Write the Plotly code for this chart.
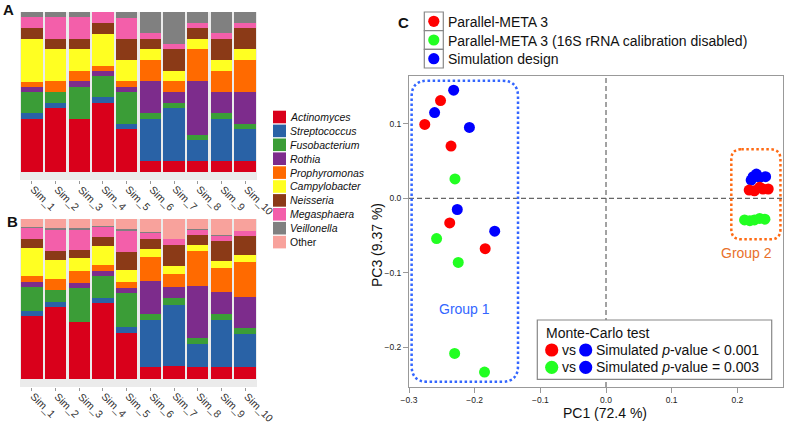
import plotly.graph_objects as go

W, H = 787, 427

# ---------------- data ----------------
sims = ["Sim_1", "Sim_2", "Sim_3", "Sim_4", "Sim_5", "Sim_6", "Sim_7", "Sim_8", "Sim_9", "Sim_10"]
genera = ["Actinomyces", "Streptococcus", "Fusobacterium", "Rothia", "Prophyromonas",
          "Campylobacter", "Neisseria", "Megasphaera", "Veillonella", "Other"]
genus_colors = ["#D9001B", "#2962A6", "#3B9D37", "#7D2C8C", "#FF6A00",
                "#FFFF22", "#8B3A17", "#F35FAA", "#808080", "#F8A29C"]

# Panel A: simulation design (% abundance)
A_actinomyces = [33.3, 40.0, 33.3, 43.3, 26.7, 6.7, 6.7, 6.7, 6.7, 6.7]
A_streptococcus = [3.3, 3.3, 0.0, 3.3, 3.3, 26.7, 33.3, 13.3, 26.7, 20.0]
A_fusobacterium = [13.3, 6.7, 20.0, 13.3, 20.0, 3.3, 3.3, 3.3, 3.3, 3.3]
A_rothia = [3.3, 0.0, 3.3, 3.3, 3.3, 20.0, 6.7, 33.3, 13.3, 20.0]
A_prophyromonas = [3.3, 6.7, 6.7, 3.3, 3.3, 13.3, 6.7, 20.0, 13.3, 20.0]
A_campylobacter = [26.7, 20.0, 13.3, 20.0, 13.3, 6.7, 6.7, 6.7, 6.7, 6.7]
A_neisseria = [6.7, 6.7, 6.7, 6.7, 13.3, 6.7, 13.3, 6.7, 13.3, 13.3]
A_megasphaera = [6.7, 13.3, 13.3, 6.7, 13.3, 3.3, 3.3, 3.3, 3.3, 3.3]
A_veillonella = [3.3, 3.3, 3.3, 0.0, 3.3, 13.3, 20.0, 6.7, 13.3, 6.7]
A_other = [0, 0, 0, 0, 0, 0, 0, 0, 0, 0]

# Panel B: Parallel-META 3 result (% abundance)
B_actinomyces = [39.2, 44.8, 35.8, 47.3, 29.0, 7.7, 8.3, 7.5, 7.5, 7.5]
B_streptococcus = [3.1, 3.1, 0.0, 3.1, 3.5, 29.2, 37.9, 14.4, 29.6, 20.8]
B_fusobacterium = [15.2, 7.5, 21.3, 14.2, 21.5, 4.0, 4.2, 3.8, 3.8, 3.8]
B_rothia = [3.1, 0.0, 3.1, 3.1, 3.1, 20.4, 7.1, 32.5, 13.3, 19.4]
B_prophyromonas = [4.0, 6.9, 7.1, 3.3, 3.5, 15.2, 8.1, 21.5, 15.0, 21.7]
B_campylobacter = [17.1, 12.1, 8.1, 12.1, 7.7, 4.6, 4.8, 4.0, 4.4, 4.0]
B_neisseria = [6.0, 5.8, 5.4, 5.6, 11.3, 6.5, 13.3, 6.3, 12.5, 12.1]
B_megasphaera = [6.9, 13.5, 12.9, 6.5, 13.1, 3.8, 3.8, 3.3, 3.8, 3.3]
B_veillonella = [0.6, 0.8, 0.8, 0.6, 0.8, 0.2, 0.2, 0.2, 0.2, 0.2]
B_other = [4.8, 5.5, 5.5, 4.2, 6.5, 8.4, 12.3, 6.5, 9.9, 7.2]

A_values = [A_actinomyces, A_streptococcus, A_fusobacterium, A_rothia, A_prophyromonas,
            A_campylobacter, A_neisseria, A_megasphaera, A_veillonella, A_other]
B_values = [B_actinomyces, B_streptococcus, B_fusobacterium, B_rothia, B_prophyromonas,
            B_campylobacter, B_neisseria, B_megasphaera, B_veillonella, B_other]

# Panel C: PCA coordinates
pm3_pc1 = [-0.252, -0.276, -0.236, -0.238, -0.184, 0.218, 0.226, 0.234, 0.239, 0.247]
pm3_pc3 = [0.131, 0.099, 0.070, -0.033, -0.0675, 0.011, 0.010, 0.0147, 0.0125, 0.0125]
nocal_pc1 = [-0.230, -0.258, -0.225, -0.2305, -0.185, 0.211, 0.219, 0.226, 0.234, 0.242]
nocal_pc3 = [0.026, -0.054, -0.086, -0.208, -0.233, -0.029, -0.030, -0.029, -0.027, -0.028]
sim_pc1 = [-0.232, -0.261, -0.208, -0.2265, -0.1695, 0.224, 0.229, 0.243, 0.234, 0.221]
sim_pc3 = [0.145, 0.115, 0.095, -0.015, -0.044, 0.029, 0.0325, 0.029, 0.028, 0.0245]

pca_names = ["Parallel-META 3", "Parallel-META 3 (16S rRNA calibration disabled)", "Simulation design"]
pca_colors = ["#FF0000", "#22FF22", "#0000FF"]

# ---------------- helpers ----------------
def px(x):
    return x / W

def py(y):
    return 1 - y / H

FONT = "Liberation Sans, Arial, sans-serif"

fig = go.Figure()

# stacked bars
for vals_list, xa, ya in [(A_values, "x", "y"), (B_values, "x2", "y2")]:
    for g, c, v in zip(genera, genus_colors, vals_list):
        fig.add_trace(go.Bar(x=sims, y=v, name=g, marker=dict(color=c, line=dict(width=0)),
                             xaxis=xa, yaxis=ya, showlegend=False))

# PCA scatter (blue first, then red, then green)
for xs, ys, nm, col in [(sim_pc1, sim_pc3, pca_names[2], pca_colors[2]),
                        (pm3_pc1, pm3_pc3, pca_names[0], pca_colors[0]),
                        (nocal_pc1, nocal_pc3, pca_names[1], pca_colors[1])]:
    fig.add_trace(go.Scatter(x=xs, y=ys, mode="markers", name=nm,
                             marker=dict(color=col, size=11, line=dict(width=0)),
                             xaxis="x3", yaxis="y3", showlegend=False))

bar_x_dom = [px(20), px(257)]
bar_xaxis = dict(domain=bar_x_dom, ticks="outside", ticklen=3, tickcolor="#999999",
                 showticklabels=False, showgrid=False, automargin=False,
                 zeroline=False, showline=False, range=[-0.5, 9.5])
bar_yaxis = dict(range=[-5, 100], showticklabels=False, showgrid=False, zeroline=False,
                 ticks="", showline=False, automargin=False)

# pixel mapping for panel C
x3_range = [-0.3, 0.2695]
y3_range = [-0.253, 0.164]
x3_px = [409, 783]
y3_px = [387, 76]
sx = (x3_px[1] - x3_px[0]) / (x3_range[1] - x3_range[0])
sy = (y3_px[0] - y3_px[1]) / (y3_range[1] - y3_range[0])

axis_c = dict(showline=True, mirror=True, linecolor="#999999", linewidth=1, ticks="outside",
              ticklen=5, tickcolor="#999999", showgrid=False, zeroline=False, dtick=0.1,
              tickformat=".1f", automargin=False,
              tickfont=dict(family=FONT, size=8.5, color="#222222"))

fig.update_layout(
    width=W, height=H, autosize=False,
    margin=dict(l=0, r=0, t=0, b=0, pad=0, autoexpand=False),
    paper_bgcolor="white", plot_bgcolor="white",
    barmode="stack", bargap=0.1,
    font=dict(family=FONT, color="#111111"),
    xaxis=dict(bar_xaxis, anchor="y"),
    yaxis=dict(bar_yaxis, domain=[py(180), py(12)], anchor="x"),
    xaxis2=dict(bar_xaxis, anchor="y2"),
    yaxis2=dict(bar_yaxis, domain=[py(387), py(219)], anchor="x2"),
    xaxis3=dict(axis_c, domain=[px(x3_px[0]), px(x3_px[1])], range=x3_range, anchor="y3", tick0=0),
    yaxis3=dict(axis_c, domain=[py(y3_px[0]), py(y3_px[1])], range=y3_range, anchor="x3", tick0=0),
)

shapes = []
annotations = []

# grey panel backgrounds for A and B
for y0, y1 in [(180, 12), (387, 219)]:
    shapes.append(dict(type="rect", xref="paper", yref="paper", x0=px(20), x1=px(257),
                       y0=py(y0), y1=py(y1), fillcolor="#EBEBEB", line=dict(width=0), layer="below"))

# rotated category labels for A and B
for xref, ytop in [("x", 182), ("x2", 389)]:
    for s in sims:
        annotations.append(dict(x=s, y=py(ytop), xref=xref, yref="paper", text=s, showarrow=False,
                                textangle=45, xanchor="left", yanchor="top", xshift=-5,
                                borderpad=0, font=dict(size=10.5, color="#333333")))

# dashed zero lines in C
shapes.append(dict(type="line", xref="x3", yref="y3", x0=0, x1=0, y0=y3_range[0], y1=y3_range[1],
                   line=dict(color="#666666", width=1.2, dash="5px,3px"), layer="below"))
shapes.append(dict(type="line", xref="x3", yref="y3", x0=x3_range[0], x1=x3_range[1], y0=0, y1=0,
                   line=dict(color="#666666", width=1.2, dash="5px,3px"), layer="below"))

def rounded_rect(x0, x1, y0, y1, rpx):
    rx = rpx / sx
    ry = rpx / sy
    return (f"M {x0+rx},{y1} L {x1-rx},{y1} Q {x1},{y1} {x1},{y1-ry} "
            f"L {x1},{y0+ry} Q {x1},{y0} {x1-rx},{y0} L {x0+rx},{y0} "
            f"Q {x0},{y0} {x0},{y0+ry} L {x0},{y1-ry} Q {x0},{y1} {x0+rx},{y1} Z")

shapes.append(dict(type="path", xref="x3", yref="y3",
                   path=rounded_rect(-0.296, -0.134, -0.246, 0.1577, 16),
                   line=dict(color="#3366FF", width=2.5, dash="2.5px,2.5px")))
shapes.append(dict(type="path", xref="x3", yref="y3",
                   path=rounded_rect(0.1908, 0.2656, -0.055, 0.0657, 10),
                   line=dict(color="#FF6A13", width=2.5, dash="2.5px,2.5px")))

annotations.append(dict(x=-0.216, y=-0.149, xref="x3", yref="y3", text="Group 1", showarrow=False,
                        font=dict(size=14, color="#3366FF")))
annotations.append(dict(x=0.214, y=-0.073, xref="x3", yref="y3", text="Group 2", showarrow=False,
                        font=dict(size=14, color="#E8702A")))

def circle(cx, cy, r, color):
    return dict(type="circle", xref="paper", yref="paper", x0=px(cx - r), x1=px(cx + r),
                y0=py(cy + r), y1=py(cy - r), fillcolor=color, line=dict(width=0))

def text_at(x, y, t, size=14, anchor="left", **kw):
    d = dict(x=px(x), y=py(y), xref="paper", yref="paper", text=t, showarrow=False,
             xanchor=anchor, yanchor="middle", font=dict(size=size, color="#111111"))
    d.update(kw)
    return d

# bar legend
for i, (g, c) in enumerate(zip(genera, genus_colors)):
    yc = 117 + i * 13.9
    shapes.append(dict(type="rect", xref="paper", yref="paper", x0=px(273), x1=px(286),
                       y0=py(yc + 6.3), y1=py(yc - 6.3), fillcolor=c, line=dict(width=0)))
    label = g if g == "Other" else f"<i>{g}</i>"
    annotations.append(text_at(287.5, yc, label, size=10.5))

# PCA legend (top)
rows = [21.3, 40.0, 58.7]
for yc, nm, col in zip(rows, pca_names, pca_colors):
    shapes.append(dict(type="rect", xref="paper", yref="paper", x0=px(424.3), x1=px(443.3),
                       y0=py(yc + 9.3), y1=py(yc - 9.3), fillcolor="white",
                       line=dict(color="#888888", width=1.2)))
    shapes.append(circle(433.8, yc, 5.6, col))
    annotations.append(text_at(445.5, yc + 0.5, nm, size=14))

# Monte-Carlo box
shapes.append(dict(type="rect", xref="paper", yref="paper", x0=px(537.3), x1=px(771.7),
                   y0=py(379.3), y1=py(320), fillcolor="white", line=dict(color="#888888", width=1.2)))
annotations.append(text_at(544, 333.3, "Monte-Carlo test", size=14))
mc_rows = [(350.0, pca_colors[0], "Simulated <i>p</i>-value &lt; 0.001"),
           (367.3, pca_colors[1], "Simulated <i>p</i>-value = 0.003")]
for yc, col, t in mc_rows:
    shapes.append(circle(551.7, yc, 6.6, col))
    shapes.append(circle(585.7, yc, 6.6, pca_colors[2]))
    annotations.append(text_at(559.5, yc, "vs", size=14))
    annotations.append(text_at(594, yc, t, size=14))

# axis titles for C
annotations.append(text_at(605, 412.7, "PC1 (72.4 %)", size=14, anchor="center"))
annotations.append(dict(x=px(377), y=py(245), xref="paper", yref="paper", text="PC3 (9.37 %)",
                        showarrow=False, textangle=-90, xanchor="center", yanchor="middle",
                        font=dict(size=14, color="#111111")))

# panel letters
annotations.append(text_at(8, 9, "<b>A</b>", size=15, anchor="center"))
annotations.append(text_at(12.5, 221, "<b>B</b>", size=15, anchor="center"))
annotations.append(text_at(403.5, 22, "<b>C</b>", size=15, anchor="center"))

fig.update_layout(shapes=shapes, annotations=annotations)

fig.write_html("out.html", config=dict(displayModeBar=False),
               post_script="document.body.style.margin='0';document.body.style.overflow='hidden';")
